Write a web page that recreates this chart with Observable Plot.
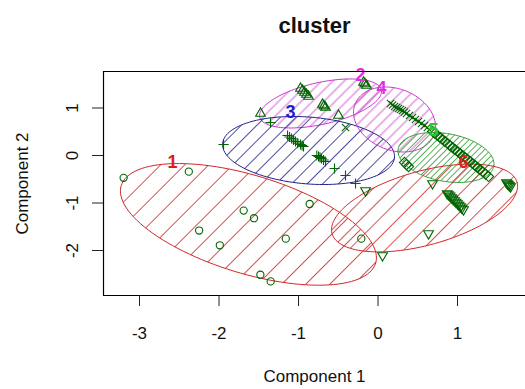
<!DOCTYPE html>
<html><head><meta charset="utf-8">
<script src="https://cdn.jsdelivr.net/npm/d3@7"></script>
<script src="https://cdn.jsdelivr.net/npm/@observablehq/plot@0.6"></script>
<style>html,body{margin:0;padding:0;background:#fff;} svg{display:block}</style>
</head><body><div id="chart"></div>
<script>
// ---- data ----
const xTicks = [-3, -2, -1, 0, 1];
const yTicks = [-2, -1, 0, 1];
const title = "cluster";
const xLabel = "Component 1";
const yLabel = "Component 2";

const cluster1 = [[-3.20,-0.47],[-2.38,-0.34],[-1.69,-1.16],[-1.56,-1.32],[-2.25,-1.58],[-1.99,-1.89],[-1.16,-1.75],[-0.86,-1.02],[-1.48,-2.51],[-1.35,-2.65],[-0.21,-1.75]];
const cluster2 = [[-0.975,1.41],[-0.95,1.37],[-0.925,1.326],[-0.90,1.285],[-0.874,1.242],[-0.698,1.074],[-0.68,1.04],[-0.66,1.01],[-0.182,1.537],[-0.165,1.505],[-0.145,1.474],[-1.478,0.884],[-0.497,0.842]];
const cluster3 = [[-1.943,0.232],[-1.352,0.695],[-1.138,0.421],[-1.113,0.39],[-1.088,0.358],[-1.063,0.327],[-1.038,0.295],[-1.01,0.26],[-0.975,0.232],[-0.955,0.21],[-0.937,0.189],[-0.77,0.0],[-0.748,-0.021],[-0.73,-0.04],[-0.711,-0.063],[-0.685,-0.095],[-0.66,-0.126],[-0.547,-0.274],[-0.409,-0.421],[-0.283,-0.589]];
const cluster4 = [[0.157,1.095],[0.183,1.063],[0.208,1.032],[0.233,1.01],[0.258,0.989],[0.283,0.968],[0.308,0.947],[0.333,0.915],[0.358,0.884],[0.396,0.842],[0.434,0.8],[0.47,0.758],[0.509,0.716],[0.547,0.674],[0.585,0.632],[0.62,0.59],[-0.409,0.589]];
const cluster5 = [[0.686,0.505],[0.717,0.463],[0.748,0.421],[0.78,0.379],[0.811,0.337],[0.842,0.295],[0.874,0.253],[0.905,0.21],[0.937,0.168],[0.968,0.126],[1.0,0.084],[1.031,0.042],[1.063,0.0],[1.094,-0.042],[1.126,-0.084],[1.157,-0.126],[1.189,-0.168],[1.22,-0.21],[1.252,-0.253],[1.283,-0.295],[1.314,-0.337],[1.352,-0.39],[1.39,-0.442],[0.333,-0.147],[0.358,-0.19],[0.384,-0.232]];
const cluster6 = [[-0.157,-0.737],[0.057,-2.105],[0.635,-1.642],[0.686,-0.589],[0.87,-0.80],[0.887,-0.821],[0.906,-0.852],[0.925,-0.884],[0.943,-0.915],[0.962,-0.947],[0.981,-0.979],[1.0,-1.011],[1.019,-1.042],[1.038,-1.074],[1.056,-1.105],[1.075,-1.137],[1.616,-0.568],[1.629,-0.59],[1.642,-0.611],[1.654,-0.632],[1.667,-0.653]];

// ellipse: center + two conjugate semi-axis vectors (data units)
const clusterIds = ["1","2","3","4","5","6"];
const ellipseCenter = [[-1.63,-1.45],[-0.723,1.095],[-0.874,0.105],[0.2075,0.758],[0.855,-0.042],[0.585,-1.105]];
const ellipseU = [[1.60,-0.817],[0.765,0.286],[1.081,-0.1455],[0.496,-0.327],[0.6015,-0.181],[1.1636,0.5396]];
const ellipseV = [[-0.18,-0.986],[0.0573,-0.4295],[-0.0337,-0.701],[-0.1415,-0.601],[-0.0531,-0.494],[0.1243,-0.7506]];
const labelPos = [[-2.585,-0.147],[-0.22,1.684],[-1.10,0.905],[0.044,1.41],[0.698,0.526],[1.075,-0.147]];

// ---- styles ----
const ellipseColor = ["#d02828","#c838c8","#22228c","#c838c8","#3a9e3a","#d02828"];
const labelColor = ["#e01c1c","#e030e0","#1c1cd8","#e030e0","#28c828","#e01c1c"];
const hatchSpacing = [17, 8, 11, 8, 4.5, 13];
const pointColor = "#006400";
const font = "'Liberation Sans', Arial, Helvetica, sans-serif";
const xDomain = [-3.453, 1.855];
const yDomain = [-2.947, 1.768];

// R-like pch symbols (s = circle radius)
const S = size => Math.sqrt(size / Math.PI);
const pch = {
  circle: {draw(c, size){const s=S(size); c.moveTo(s,0); c.arc(0,0,s,0,2*Math.PI);}},
  triUp: {draw(c, size){const s=S(size); c.moveTo(0,-1.555*s); c.lineTo(1.347*s,0.778*s); c.lineTo(-1.347*s,0.778*s); c.closePath();}},
  plus: {draw(c, size){const s=S(size)*1.414; c.moveTo(-s,0); c.lineTo(s,0); c.moveTo(0,-s); c.lineTo(0,s);}},
  times: {draw(c, size){const s=S(size); c.moveTo(-s,-s); c.lineTo(s,s); c.moveTo(-s,s); c.lineTo(s,-s);}},
  diamond: {draw(c, size){const s=S(size)*1.414; c.moveTo(0,-s); c.lineTo(s,0); c.lineTo(0,s); c.lineTo(-s,0); c.closePath();}},
  triDown: {draw(c, size){const s=S(size); c.moveTo(0,1.555*s); c.lineTo(1.347*s,-0.778*s); c.lineTo(-1.347*s,-0.778*s); c.closePath();}}
};
const clusters = [cluster1, cluster2, cluster3, cluster4, cluster5, cluster6];
const symbols = [pch.circle, pch.triUp, pch.plus, pch.times, pch.diamond, pch.triDown];

const ellipsePts = i => d3.range(0, 121).map(k => {
  const t = 2 * Math.PI * k / 120;
  const c = ellipseCenter[i], u = ellipseU[i], v = ellipseV[i];
  return [c[0] + u[0]*Math.cos(t) + v[0]*Math.sin(t), c[1] + u[1]*Math.cos(t) + v[1]*Math.sin(t)];
});

const labels = clusterIds.map((id, i) => ({id, x: labelPos[i][0], y: labelPos[i][1], color: labelColor[i]}));

const chart = Plot.plot({
  width: 525, height: 389,
  marginLeft: 103, marginRight: 0, marginTop: 71, marginBottom: 94,
  x: {domain: xDomain, axis: null},
  y: {domain: yDomain, axis: null},
  color: {type: "identity"},
  style: {fontFamily: font, background: "#fff", overflow: "hidden"},
  marks: [
    ...clusterIds.map((id, i) => Plot.line(ellipsePts(i), {
      x: d => d[0], y: d => d[1],
      stroke: ellipseColor[i], strokeWidth: 1, fill: `url(#hatch${i})`
    })),
    ...clusters.map((pts, i) => Plot.dot(pts, {
      x: d => d[0], y: d => d[1], r: 3.6, symbol: symbols[i],
      stroke: pointColor, fill: "none", strokeWidth: 1.1
    })),
    Plot.text(labels, {x: "x", y: "y", text: "id", fill: "color", fontSize: 18, fontWeight: "bold"}),
    // frame (right side falls outside the picture)
    Plot.ruleY([yDomain[0], yDomain[1]], {stroke: "#000", strokeWidth: 1.2}),
    Plot.ruleX([xDomain[0]], {stroke: "#000", strokeWidth: 1.2}),
    Plot.axisX({ticks: xTicks, tickSize: 11, tickFormat: () => "", label: null, stroke: "#222"}),
    Plot.axisY({ticks: yTicks, tickSize: 11, tickFormat: () => "", label: null, stroke: "#222"}),
    Plot.text(xTicks, {x: d => d, frameAnchor: "bottom", dy: 38, text: d => String(d), fontSize: 17, textAnchor: "middle", lineAnchor: "middle", fill: "#111"}),
    Plot.text(yTicks, {y: d => d, frameAnchor: "left", dx: -31, rotate: -90, text: d => String(d), fontSize: 17, textAnchor: "middle", lineAnchor: "middle", fill: "#111"}),
    Plot.text([xLabel], {frameAnchor: "bottom", dy: 81, text: d => d, fontSize: 17, textAnchor: "middle", lineAnchor: "middle", fill: "#111"}),
    Plot.text([yLabel], {frameAnchor: "left", dx: -81, rotate: -90, text: d => d, fontSize: 17, textAnchor: "middle", lineAnchor: "middle", fill: "#111"}),
    Plot.text([title], {frameAnchor: "top", dy: -46, text: d => d, fontSize: 22, fontWeight: "bold", textAnchor: "middle", lineAnchor: "middle", fill: "#111"})
  ]
});

// hatch patterns (R polygon density shading)
const defs = d3.select(chart).insert("defs", ":first-child");
hatchSpacing.forEach((d, i) => {
  const p = defs.append("pattern").attr("id", `hatch${i}`)
    .attr("patternUnits", "userSpaceOnUse").attr("width", d).attr("height", d)
    .attr("patternTransform", "rotate(45)");
  p.append("line").attr("x1", d/2).attr("y1", 0).attr("x2", d/2).attr("y2", d)
    .attr("stroke", ellipseColor[i]).attr("stroke-width", 0.8);
});
document.getElementById("chart").appendChild(chart);
</script>
</body></html>
